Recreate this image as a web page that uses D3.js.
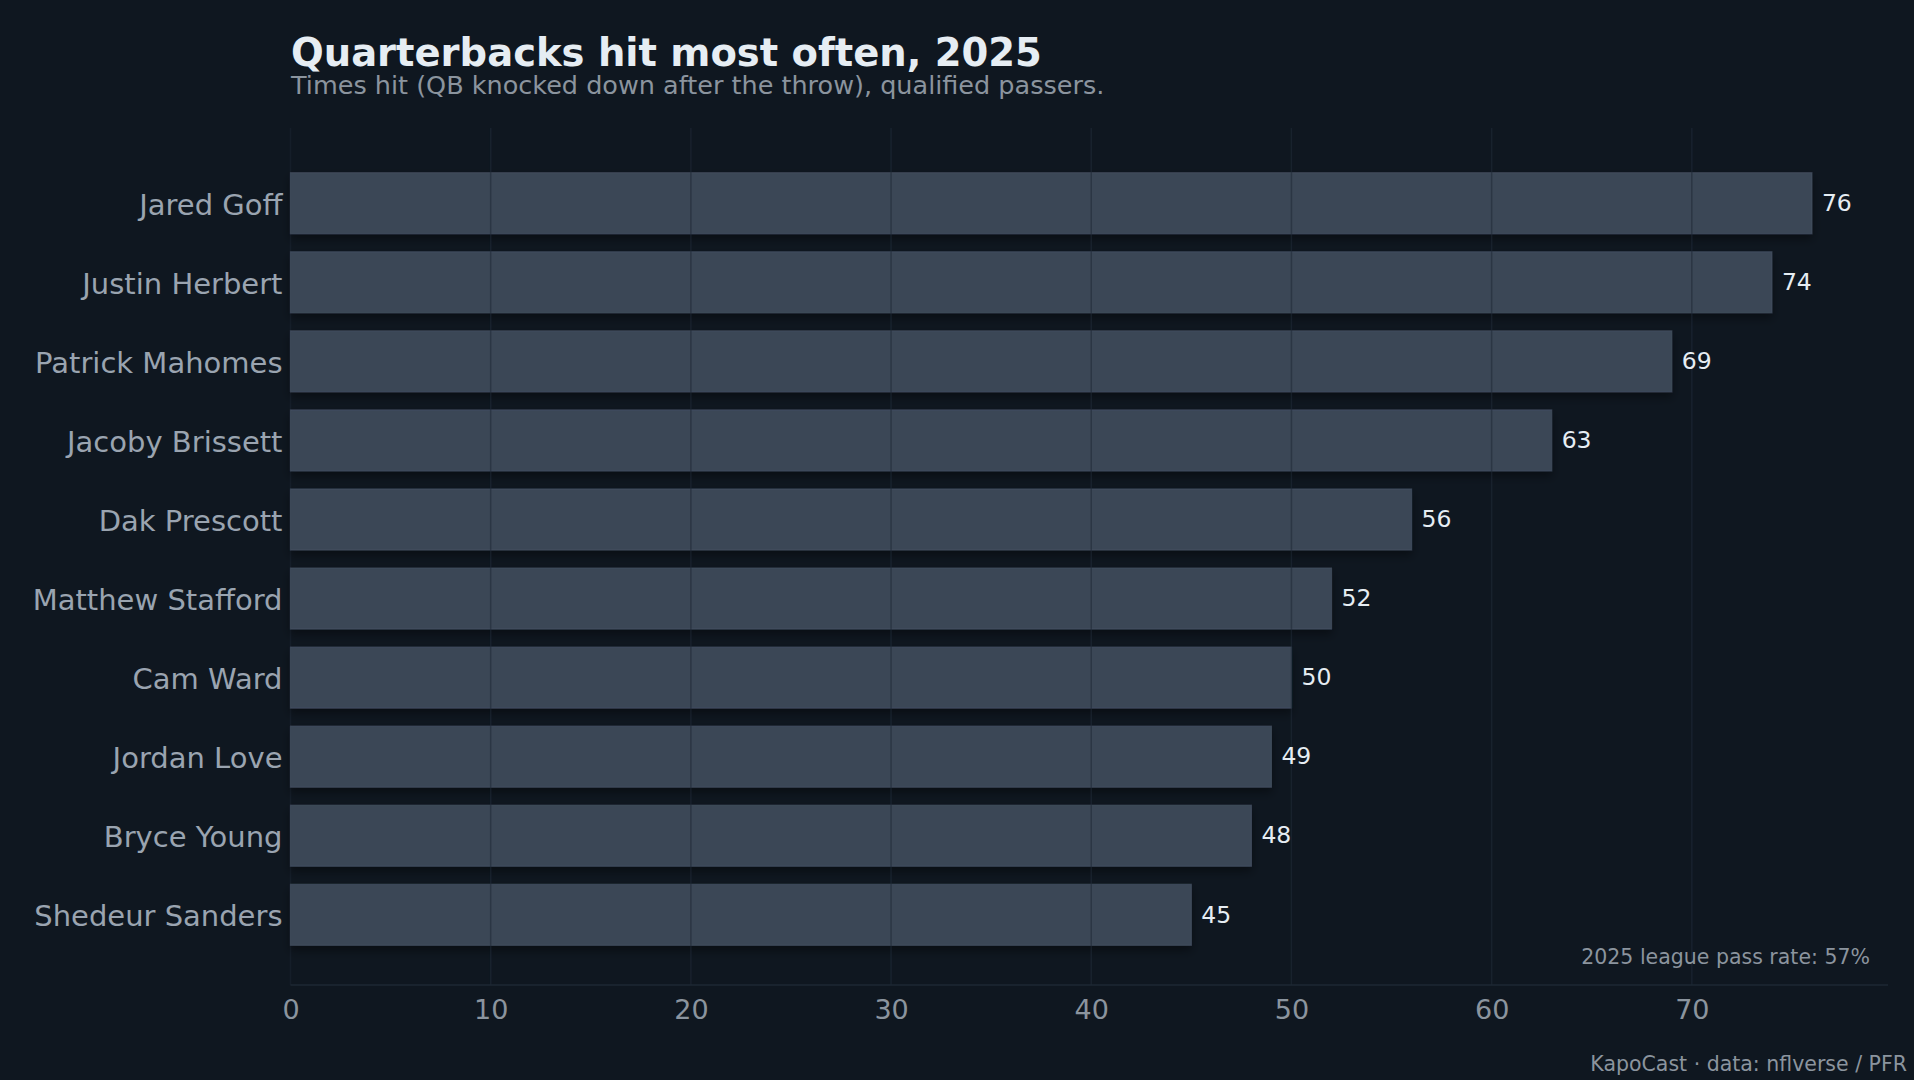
<!DOCTYPE html>
<html>
<head>
<meta charset="utf-8">
<script src="https://cdn.jsdelivr.net/npm/d3@7"></script>
<style>
  html, body { margin: 0; padding: 0; background: #0f1720; }
  svg { display: block; font-family: "DejaVu Sans", sans-serif; }
</style>
</head>
<body>
<svg id="chart" width="1914" height="1080"></svg>
<script>
// Data
const players = ["Jared Goff", "Justin Herbert", "Patrick Mahomes", "Jacoby Brissett", "Dak Prescott",
    "Matthew Stafford", "Cam Ward", "Jordan Love", "Bryce Young", "Shedeur Sanders"];
const timesHit = [76, 74, 69, 63, 56, 52, 50, 49, 48, 45];
const xTicks = [0, 10, 20, 30, 40, 50, 60, 70];

const titleText = "Quarterbacks hit most often, 2025";
const subtitleText = "Times hit (QB knocked down after the throw), qualified passers.";
const noteText = "2025 league pass rate: 57%";
const sourceText = "KapoCast \u00b7 data: nflverse / PFR";

const data = players.map((name, i) => ({ name, value: timesHit[i] }));

const svg = d3.select("#chart");
const plot = { left: 290.5, right: 1888, top: 128, bottom: 985 };

svg.append("rect")
    .attr("width", 1914)
    .attr("height", 1080)
    .attr("fill", "#0f1720");

// soft shadow under the bars
const defs = svg.append("defs");
defs.append("filter")
    .attr("id", "shadow")
    .attr("x", "-5%").attr("y", "-30%")
    .attr("width", "110%").attr("height", "170%")
    .append("feDropShadow")
    .attr("dx", 0)
    .attr("dy", 5)
    .attr("stdDeviation", 5)
    .attr("flood-color", "#000")
    .attr("flood-opacity", 0.4);

// Scales
const x = d3.scaleLinear()
    .domain([0, d3.max(timesHit) * 1.05])
    .range([plot.left, plot.right]);

const y = d3.scaleBand()
    .domain(players)
    .range([130, 988])
    .paddingInner(0.228)
    .paddingOuter(0.54);

// Title + subtitle
svg.append("text")
    .attr("x", 291)
    .attr("y", 66)
    .attr("fill", "#e6edf3")
    .attr("font-size", 38.5)
    .attr("font-weight", "bold")
    .text(titleText);

svg.append("text")
    .attr("x", 291)
    .attr("y", 94)
    .attr("fill", "#8b949e")
    .attr("font-size", 25.5)
    .text(subtitleText);

// faint background gridlines
const grid = svg.append("g").attr("class", "grid");
grid.selectAll("line")
    .data(xTicks)
    .enter().append("line")
    .attr("x1", d => x(d))
    .attr("x2", d => x(d))
    .attr("y1", plot.top)
    .attr("y2", plot.bottom)
    .attr("stroke", "#1b2531")
    .attr("stroke-opacity", 0.5)
    .attr("stroke-width", 1.5);

// Bars
svg.append("g")
    .selectAll("rect")
    .data(data)
    .enter().append("rect")
    .attr("x", x(0))
    .attr("y", d => y(d.name))
    .attr("width", d => x(d.value) - x(0))
    .attr("height", y.bandwidth())
    .attr("fill", "#3b4757")
    .attr("stroke", "#4a5567")
    .attr("stroke-opacity", 0.6)
    .attr("stroke-width", 1.2)
    .attr("filter", "url(#shadow)");

// gridlines again on top of the bars (darker there)
svg.append("g")
    .selectAll("line")
    .data(xTicks.filter(d => d > 0))
    .enter().append("line")
    .attr("x1", d => x(d))
    .attr("x2", d => x(d))
    .attr("y1", plot.top)
    .attr("y2", plot.bottom)
    .attr("stroke", "#1b2531")
    .attr("stroke-opacity", 0.5)
    .attr("stroke-width", 1.5);

// Value labels
svg.append("g")
    .selectAll("text")
    .data(data)
    .enter().append("text")
    .attr("x", d => x(d.value) + 10)
    .attr("y", d => y(d.name) + y.bandwidth() / 2)
    .attr("dy", "0.33em")
    .attr("fill", "#e6edf3")
    .attr("font-size", 23.5)
    .text(d => d.value);

// Y axis (names)
const yAxis = svg.append("g")
    .attr("transform", `translate(${plot.left},0)`)
    .call(d3.axisLeft(y).tickSize(0).tickPadding(8));
yAxis.select(".domain").remove();
yAxis.selectAll("text")
    .attr("dy", "0.4em")
    .attr("fill", "#9aa4b0")
    .attr("font-size", 29)
    .attr("font-family", "DejaVu Sans, sans-serif");

// X axis
const xAxis = svg.append("g")
    .attr("transform", `translate(0,${plot.bottom})`)
    .call(d3.axisBottom(x).tickValues(xTicks).tickSize(0).tickPadding(15));
xAxis.select(".domain")
    .attr("stroke", "#1e2833")
    .attr("stroke-width", 1.5)
    .attr("d", `M${plot.left},0H${plot.right}`);
xAxis.selectAll("text")
    .attr("fill", "#8b949e")
    .attr("font-size", 27)
    .attr("font-family", "DejaVu Sans, sans-serif");

// Note + source
svg.append("text")
    .attr("x", 1870)
    .attr("y", 964)
    .attr("text-anchor", "end")
    .attr("fill", "#8b949e")
    .attr("font-size", 20.5)
    .text(noteText);

svg.append("text")
    .attr("x", 1907)
    .attr("y", 1071)
    .attr("text-anchor", "end")
    .attr("fill", "#8b949e")
    .attr("font-size", 20.5)
    .text(sourceText);
</script>
</body>
</html>
